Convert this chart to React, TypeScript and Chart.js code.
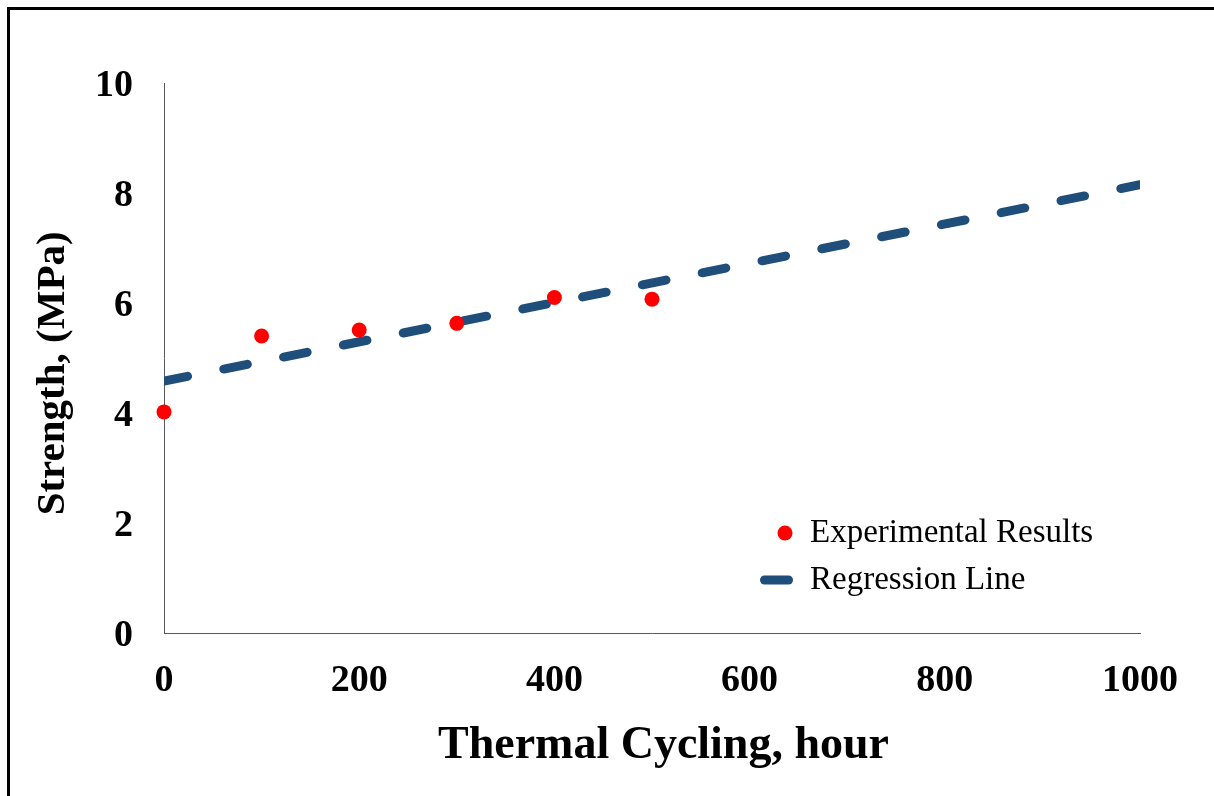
import React, { useEffect, useRef } from "react";
import { Chart, registerables } from "chart.js";

Chart.register(...registerables);

// ---- data ----
const cyclingHours = [0, 100, 200, 300, 400, 500];
const strengthMPa = [4.02, 5.4, 5.51, 5.63, 6.1, 6.07];
const regressionHours = [0, 1000];
const regressionStrength = [4.58, 8.15];
const xRange = [0, 1000];
const yRange = [0, 10];
const xTickStep = 200;
const yTickStep = 2;
const seriesLabels = ["Experimental Results", "Regression Line"];
const xAxisTitle = "  Thermal Cycling, hour";
const yAxisTitle = "Strength, (MPa)   ";

const SERIF = "'Liberation Serif', 'Times New Roman', Times, serif";
const POINT_COLOR = "#FF0000";
const LINE_COLOR = "#1F4E7A";

const insideLegend = {
  id: "insideLegend",
  afterDraw(chart: any) {
    const { ctx, chartArea } = chart;
    const datasets = chart.data.datasets;
    const markerX = chartArea.right - 355;
    const textX = chartArea.right - 330;
    const rowY = [chartArea.top + 450, chartArea.top + 497];
    ctx.save();
    ctx.font = `33px ${SERIF}`;
    ctx.textBaseline = "middle";
    ctx.textAlign = "left";
    ctx.fillStyle = "#000";
    datasets.forEach((d: any, i: number) => {
      const y = rowY[i];
      if (d.showLine) {
        ctx.strokeStyle = d.borderColor;
        ctx.lineWidth = d.borderWidth;
        ctx.lineCap = "round";
        ctx.beginPath();
        ctx.moveTo(markerX - 20.5, y);
        ctx.lineTo(markerX + 3.5, y);
        ctx.stroke();
      } else {
        ctx.fillStyle = d.backgroundColor;
        ctx.beginPath();
        ctx.arc(markerX, y, d.pointRadius, 0, Math.PI * 2);
        ctx.fill();
      }
      ctx.fillStyle = "#000";
      ctx.fillText(d.label, textX, y);
    });
    ctx.restore();
  },
};

export default function App() {
  const canvasRef = useRef<HTMLCanvasElement | null>(null);

  useEffect(() => {
    if (!canvasRef.current) return;
    const tickFont = { family: SERIF, size: 38, weight: "bold" as const, lineHeight: 1.2 };
    const xTitleFont = { family: SERIF, size: 46, weight: "bold" as const, lineHeight: 1.2 };
    const yTitleFont = { family: SERIF, size: 41, weight: "bold" as const, lineHeight: 1.2 };
    const chart = new Chart(canvasRef.current, {
      type: "scatter",
      data: {
        datasets: [
          {
            label: seriesLabels[0],
            data: cyclingHours.map((h, i) => ({ x: h, y: strengthMPa[i] })),
            backgroundColor: POINT_COLOR,
            borderColor: POINT_COLOR,
            borderWidth: 0,
            pointRadius: 7.5,
            pointHoverRadius: 7.5,
            showLine: false,
            clip: false,
          } as any,
          {
            label: seriesLabels[1],
            data: regressionHours.map((h, i) => ({ x: h, y: regressionStrength[i] })),
            showLine: true,
            borderColor: LINE_COLOR,
            backgroundColor: LINE_COLOR,
            borderWidth: 9,
            borderDash: [24, 37],
            borderCapStyle: "round",
            pointRadius: 0,
            pointHoverRadius: 0,
            clip: 0,
          } as any,
        ],
      },
      options: {
        animation: false,
        responsive: false,
        devicePixelRatio: 1,
        layout: { padding: { left: 0, top: 73, right: 74, bottom: 0 } },
        plugins: {
          legend: { display: false },
          tooltip: { enabled: false },
        },
        scales: {
          x: {
            type: "linear",
            min: xRange[0],
            max: xRange[1],
            grid: { display: false },
            border: { display: true, color: "#595959", width: 1 },
            ticks: {
              stepSize: xTickStep,
              color: "#000",
              padding: 17,
              maxRotation: 0,
              font: tickFont,
              callback: (v: any) => String(v),
            },
            title: {
              display: true,
              text: xAxisTitle,
              color: "#000",
              font: xTitleFont,
              padding: { top: 0, bottom: 22 },
            },
            afterFit(scale: any) {
              scale.height = 163;
            },
          },
          y: {
            type: "linear",
            min: yRange[0],
            max: yRange[1],
            grid: { display: false },
            border: { display: true, color: "#595959", width: 1 },
            ticks: {
              stepSize: yTickStep,
              color: "#000",
              padding: 23,
              labelOffset: 3,
              font: tickFont,
              callback: (v: any) => String(v),
            },
            title: {
              display: true,
              text: yAxisTitle,
              color: "#000",
              font: yTitleFont,
              padding: { top: 19, bottom: 0 },
            },
            afterFit(scale: any) {
              scale.width = 154;
            },
          },
        },
      },
      plugins: [insideLegend],
    });
    return () => chart.destroy();
  }, []);

  return (
    <div
      style={{
        position: "fixed",
        left: 7,
        top: 7,
        width: 1204,
        height: 786,
        borderTop: "3px solid #000",
        borderLeft: "3px solid #000",
        background: "#fff",
      }}
    >
      <canvas ref={canvasRef} width={1204} height={786} style={{ display: "block" }} />
    </div>
  );
}
